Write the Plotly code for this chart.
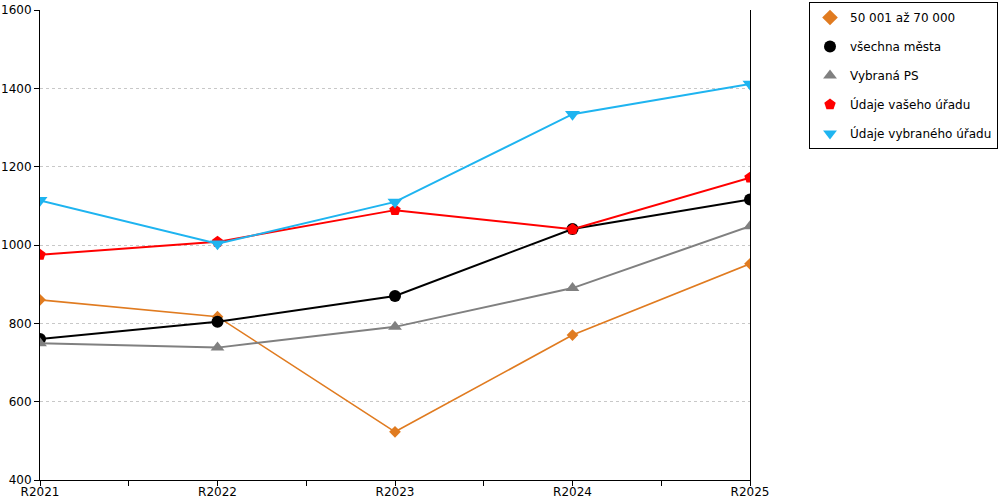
import plotly.graph_objects as go

categories = ["R2021", "R2022", "R2023", "R2024", "R2025"]
s_5070 = [860, 817, 523, 770, 952]
s_vsechna = [760, 804, 870, 1041, 1116]
s_ps = [749, 738, 791, 890, 1048]
s_vas = [975, 1008, 1089, 1040, 1172]
s_vybrany = [1114, 1003, 1110, 1334, 1411]

names = ["50 001 až 70 000", "všechna města", "Vybraná PS", "Údaje vašeho úřadu", "Údaje vybraného úřadu"]
series = [s_5070, s_vsechna, s_ps, s_vas, s_vybrany]
colors = ["#E07B20", "#000000", "#808080", "#FF0000", "#1EB4F0"]
symbols = ["diamond", "circle", "triangle-up", "pentagon", "triangle-down"]
sizes = [9, 12, 12, 12, 13]
widths = [1.6, 2, 2, 2, 2]

xs = list(range(len(categories)))

fig = go.Figure()
for i, (n, s) in enumerate(zip(names, series)):
    fig.add_trace(go.Scatter(
        x=xs, y=s, name=n, mode="lines+markers",
        line=dict(color=colors[i], width=widths[i]),
        marker=dict(symbol=symbols[i], size=sizes[i], color=colors[i]),
        showlegend=False,
    ))
    # legend entry: marker only
    fig.add_trace(go.Scatter(
        x=[None], y=[None], name=n, mode="markers",
        marker=dict(symbol=symbols[i], size=sizes[i], color=colors[i]),
        legendgroup=f"g{i}", showlegend=True,
    ))

fig.update_layout(
    width=1000, height=500,
    margin=dict(l=40, r=250, t=10, b=20, autoexpand=False),
    plot_bgcolor="white", paper_bgcolor="white",
    font=dict(family="DejaVu Sans", size=12, color="#000"),
    showlegend=True,
    legend=dict(
        x=(998 - 40) / 710, xanchor="right", y=1 + 8 / 470, yanchor="top",
        bordercolor="#000", borderwidth=1,
        font=dict(size=12), tracegroupgap=10,
        itemsizing="constant", itemwidth=30,
    ),
    xaxis=dict(
        range=[0, 4], tickvals=xs, ticktext=categories,
        showgrid=False, zeroline=False, automargin=False,
        showline=True, linecolor="#000", linewidth=1,
        ticks="outside", ticklen=4, tickcolor="#000",
        ticklabelstandoff=-3,
        minor=dict(ticks="outside", dtick=0.5, tick0=0, ticklen=5, tickcolor="#000", showgrid=False),
    ),
    yaxis=dict(
        range=[400, 1600], dtick=200, tick0=400,
        showgrid=True, gridcolor="#C8C8C8", griddash="dot", gridwidth=1,
        zeroline=False, automargin=False,
        showline=True, mirror=True, linecolor="#000", linewidth=1,
        ticks="outside", ticklen=5, tickcolor="#000",
    ),
)

fig.write_html("out.html", config={"displayModeBar": False},
               post_script="document.body.style.margin='0';")
